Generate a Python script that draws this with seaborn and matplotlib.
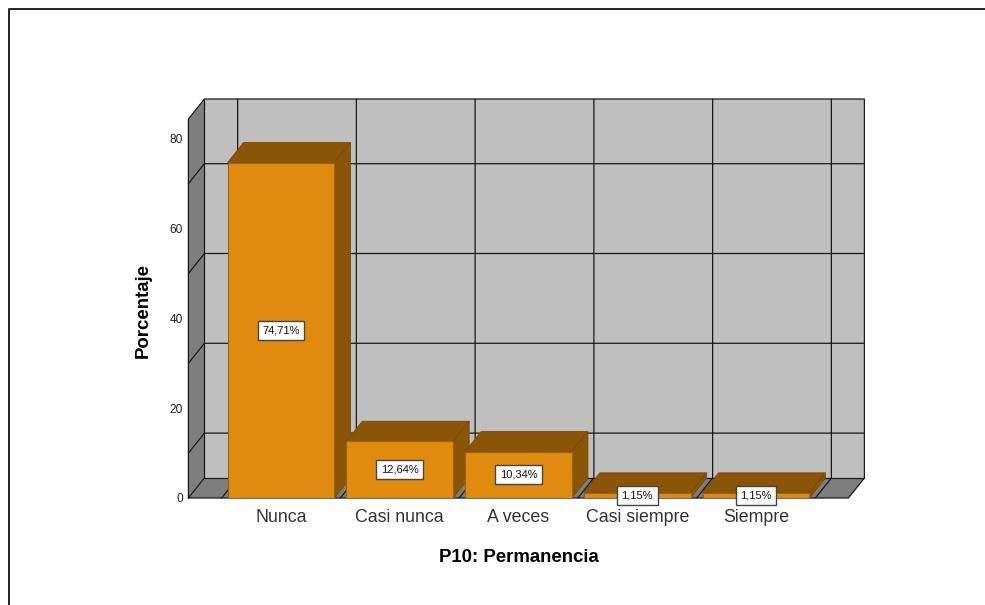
import matplotlib
matplotlib.use("Agg")
import matplotlib.pyplot as plt
from matplotlib.lines import Line2D
import pandas as pd
import seaborn as sns

categories = ["Nunca", "Casi nunca", "A veces", "Casi siempre", "Siempre"]
percent = [74.71, 12.64, 10.34, 1.15, 1.15]
value_labels = ["74,71%", "12,64%", "10,34%", "1,15%", "1,15%"]
y_ticks = [0, 20, 40, 60, 80]
grid_levels = [10, 30, 50, 70]

W, H = 985, 605
FRONT, SIDE, WALL, SWALL = "#E08A0E", "#8A5506", "#BFBFBF", "#7E7E7E"
EDGE = "#9A6410"

sns.set_style("white")
plt.rcParams["font.family"] = ["Liberation Sans", "DejaVu Sans"]

fig = plt.figure(figsize=(W / 100, H / 100), dpi=100, facecolor="white")
L, R, T, B = 188.4, 848.4, 119, 498
ax = fig.add_axes([L / W, 1 - B / H, (R - L) / W, (B - T) / H])
ax.patch.set_visible(False)

df = pd.DataFrame({"cat": categories, "pct": percent})
sns.barplot(data=df, x="cat", y="pct", color=FRONT, saturation=1, width=0.9,
            edgecolor=EDGE, linewidth=0.8, ax=ax)

x_per = 118.75
y_per = 4.49
centre = 281.0
x0 = (L - centre) / x_per
x1 = (R - centre) / x_per
ymax = (B - T) / y_per
ax.set_xlim(x0, x1)
ax.set_ylim(0, ymax)
dx, dy = 16 / x_per, 20 / y_per

GRID = dict(color="#1a1a1a", lw=0.9, clip_on=False, zorder=1.5)

# walls
ax.fill([x0 + dx, x1 + dx, x1 + dx, x0 + dx], [dy, dy, ymax + dy, ymax + dy],
        color=WALL, clip_on=False, zorder=1, lw=0)
ax.fill([x0, x0 + dx, x0 + dx, x0], [0, dy, ymax + dy, ymax],
        color=SWALL, clip_on=False, zorder=1, lw=0)
ax.fill([x0, x1, x1 + dx, x0 + dx], [0, 0, dy, dy],
        color=SWALL, clip_on=False, zorder=1, lw=0)

# grid
for g in grid_levels:
    ax.plot([x0, x0 + dx, x1 + dx], [g, g + dy, g + dy], **GRID)
for i in range(len(categories) + 1):
    gx = i - 0.5
    ax.plot([gx, gx + dx, gx + dx], [0, dy, ymax + dy], **GRID)
ax.plot([x0, x0, x0 + dx, x1 + dx, x1 + dx, x1, x0],
        [0, ymax, ymax + dy, ymax + dy, dy, 0, 0], **GRID)
ax.plot([x0 + dx, x0 + dx, x1 + dx], [ymax + dy, dy, dy], **GRID)
ax.plot([x0, x0 + dx], [0, dy], **GRID)

# 3D faces of the bars
for i, (p, v, lab) in enumerate(zip(ax.patches, percent, value_labels)):
    z = 3 + i
    a, b = p.get_x(), p.get_x() + p.get_width()
    p.set_zorder(z + 0.2)
    ax.fill([a, b, b + dx, a + dx], [v, v, v + dy, v + dy], facecolor=SIDE,
            edgecolor="#7A4A05", lw=0.6, zorder=z, clip_on=False)
    ax.fill([b, b + dx, b + dx, b], [0, dy, v + dy, v], facecolor=SIDE,
            edgecolor="#7A4A05", lw=0.6, zorder=z, clip_on=False)
    ax.text((a + b) / 2, v / 2, lab, ha="center", va="center", fontsize=8.0,
            color="#111111", zorder=20, clip_on=False,
            bbox=dict(boxstyle="square,pad=0.42", fc="white", ec="#444444", lw=1.0))

ax.set_xticks(range(len(categories)))
ax.set_xticklabels(categories, fontsize=12.8, color="#333333")
ax.set_yticks(y_ticks)
ax.set_yticklabels([str(t) for t in y_ticks], fontsize=8.6, color="#222222")
ax.tick_params(axis="y", length=0, pad=4)
ax.tick_params(axis="x", length=0, pad=8)
ax.set_xlabel("P10: Permanencia", fontsize=13.4, fontweight="bold", color="black",
              va="center")
ax.xaxis.set_label_coords((519 - L) / (R - L), (B - 557) / (B - T))
ax.set_ylabel("Porcentaje", fontsize=13.4, fontweight="bold", color="black",
              va="center")
ax.yaxis.set_label_coords((143 - L) / (R - L), (B - 310) / (B - T))
sns.despine(ax=ax, left=True, bottom=True, top=True, right=True)

# frame of the image
fig.add_artist(Line2D([9 / W, 9 / W, 1], [0, 1 - 9 / H, 1 - 9 / H], color="#222222", lw=1.4))

fig.savefig("out.png", dpi=100)
